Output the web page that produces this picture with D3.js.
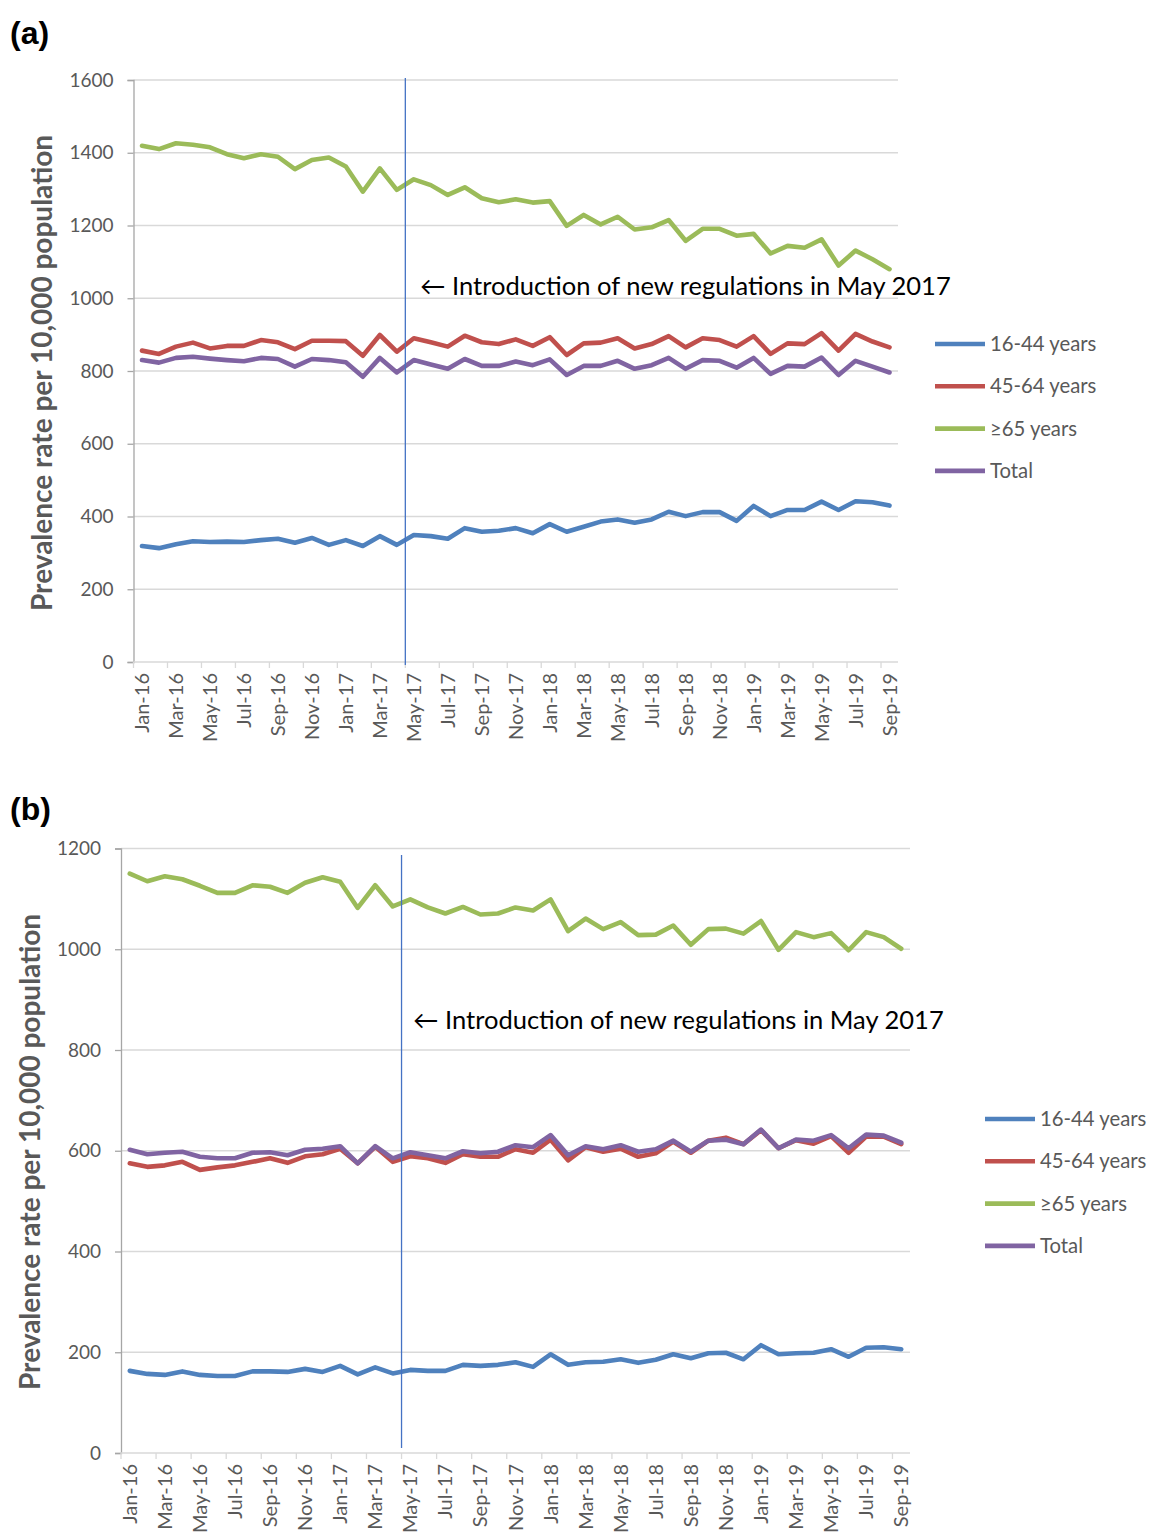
<!DOCTYPE html>
<html>
<head>
<meta charset="utf-8">
<script src="https://cdnjs.cloudflare.com/ajax/libs/d3/7.8.5/d3.min.js"></script>
<style>
  body { margin: 0; background: #fff; overflow: hidden; }
  text { font-family: Lato, "Open Sans", sans-serif; }
</style>
</head>
<body>
<div id="chart"></div>
<script>
// month categories, Jan-16 .. Sep-19
var months = ["Jan-16","Feb-16","Mar-16","Apr-16","May-16","Jun-16","Jul-16","Aug-16","Sep-16","Oct-16","Nov-16","Dec-16",
              "Jan-17","Feb-17","Mar-17","Apr-17","May-17","Jun-17","Jul-17","Aug-17","Sep-17","Oct-17","Nov-17","Dec-17",
              "Jan-18","Feb-18","Mar-18","Apr-18","May-18","Jun-18","Jul-18","Aug-18","Sep-18","Oct-18","Nov-18","Dec-18",
              "Jan-19","Feb-19","Mar-19","Apr-19","May-19","Jun-19","Jul-19","Aug-19","Sep-19"];
var seriesNames = ["16-44 years", "45-64 years", "\u226565 years", "Total"];
var colors = ["#4f81bd", "#c0504d", "#9bbb59", "#8064a2"];
var noteText = "\u2190 Introduction of new regulations in May 2017";
var yTitle = "Prevalence rate per 10,000  population";

// panel (a)
var a16_44 = [319,313,324,332,330,331,330,335,339,328,341,322,335,319,346,322,349,346,339,368,358,361,368,354,
              379,358,372,386,392,383,392,413,401,412,412,388,429,401,418,418,441,418,442,439,430];
var a45_64 = [856,847,867,878,862,869,869,885,879,860,883,883,882,842,899,853,890,879,867,897,879,874,887,869,
              893,844,876,878,890,862,874,896,865,890,885,867,896,847,876,874,904,856,902,881,865];
var a65 = [1419,1410,1426,1422,1415,1396,1385,1396,1389,1355,1380,1387,1362,1293,1357,1298,1327,1311,1284,1305,1275,1264,1272,1263,
           1267,1199,1229,1203,1224,1189,1195,1215,1158,1191,1191,1172,1177,1123,1144,1139,1162,1090,1131,1107,1080];
var aTotal = [830,823,836,839,834,830,827,836,833,812,833,830,824,784,836,796,830,818,806,833,814,814,826,816,
              832,789,814,814,828,806,816,836,806,830,828,809,836,792,814,812,837,789,828,812,796];
var aTicks = [0,200,400,600,800,1000,1200,1400,1600];

// panel (b)
var b16_44 = [163,157,155,162,155,153,153,162,162,161,167,161,173,156,170,158,165,163,163,175,173,175,180,171,
              196,175,180,181,186,179,185,196,188,198,199,186,214,196,198,199,206,191,209,210,206];
var b45_64 = [575,568,571,578,562,567,571,578,585,576,589,593,604,575,608,578,589,585,576,593,588,588,603,596,
              622,581,607,598,604,588,595,618,596,620,626,613,641,605,621,614,629,596,628,628,613];
var b65 = [1150,1135,1145,1139,1126,1112,1112,1127,1124,1112,1132,1143,1134,1082,1127,1085,1099,1083,1071,1084,1069,1071,1083,1077,
           1099,1036,1061,1040,1054,1028,1029,1047,1009,1040,1041,1031,1056,999,1034,1024,1032,998,1034,1024,1001];
var bTotal = [602,593,596,598,588,585,585,596,597,591,602,604,609,575,609,585,597,591,585,599,595,598,611,607,
              631,591,609,603,611,598,603,620,598,620,622,613,642,605,622,620,631,605,632,630,616];
var bTicks = [0,200,400,600,800,1000,1200];

var svg = d3.select("#chart").append("svg")
    .attr("width", 1150)
    .attr("height", 1533);

function drawPanel(p) {
    var g = svg.append("g");
    var x = d3.scaleBand().domain(months).range([p.left, p.right]);
    var y = d3.scaleLinear().domain([0, p.ymax]).range([p.bottom, p.top]);

    // panel letter
    g.append("text")
        .attr("x", 10).attr("y", p.letterY)
        .style("font-family", "Arial, 'Liberation Sans', sans-serif")
        .style("font-weight", "bold").style("font-size", "32px")
        .text(p.letter);

    // gridlines
    g.selectAll(".grid").data(p.ticks.slice(1)).enter().append("line")
        .attr("x1", p.left).attr("x2", p.right)
        .attr("y1", d => y(d)).attr("y2", d => y(d))
        .attr("stroke", "#d9d9d9").attr("stroke-width", 1.3);

    // y axis
    var yAxis = d3.axisLeft(y).tickValues(p.ticks).tickFormat(d3.format("d")).tickSize(6).tickPadding(14);
    var ya = g.append("g").attr("transform", "translate(" + p.left + ",0)").call(yAxis);
    ya.select(".domain").attr("stroke", "#a6a6a6").attr("stroke-width", 1.3);
    ya.selectAll(".tick line").attr("stroke", "#a6a6a6").attr("stroke-width", 1.3);
    ya.selectAll("text").style("font-size", "19px").attr("fill", "#595959")
        .style("font-family", "Lato, sans-serif");

    // x axis, ticks on every other band boundary
    var bounds = d3.range(0, months.length + 1, 2).map(i => p.left + i * x.step());
    g.append("line")
        .attr("x1", p.left).attr("x2", p.right)
        .attr("y1", p.bottom).attr("y2", p.bottom)
        .attr("stroke", "#d9d9d9").attr("stroke-width", 1.3);
    g.selectAll(".xt").data(bounds).enter().append("line")
        .attr("x1", d => d).attr("x2", d => d)
        .attr("y1", p.bottom).attr("y2", p.bottom + 6)
        .attr("stroke", "#d9d9d9").attr("stroke-width", 1.3);
    g.selectAll(".xl").data(months.filter((m, i) => i % 2 == 0)).enter().append("text")
        .attr("transform", d => "translate(" + (x(d) + x.bandwidth() / 2 + 7) + "," + (p.bottom + 11) + ") rotate(-90)")
        .attr("text-anchor", "end")
        .style("font-size", "20px").attr("fill", "#595959")
        .text(d => d);

    // y title
    g.append("text")
        .attr("transform", "translate(" + p.titleX + "," + p.titleY + ") rotate(-90)")
        .attr("text-anchor", "middle")
        .style("font-size", "28px").style("font-weight", "bold").attr("fill", "#595959")
        .text(yTitle);

    // lines
    var line = d3.line()
        .x((d, i) => x(months[i]) + x.bandwidth() / 2)
        .y(d => y(d));
    p.series.forEach(function (s, k) {
        g.append("path").datum(s)
            .attr("d", line)
            .attr("fill", "none")
            .attr("stroke", colors[k])
            .attr("stroke-width", 4.6)
            .attr("stroke-linejoin", "round")
            .attr("stroke-linecap", "round");
    });

    // regulation marker, boundary before May-17
    var vx = x("May-17");
    g.append("line")
        .attr("x1", vx).attr("x2", vx)
        .attr("y1", p.vTop).attr("y2", p.vBottom)
        .attr("stroke", "#4472c4").attr("stroke-width", 1.3);
    g.append("text")
        .attr("x", p.noteX).attr("y", p.noteY)
        .style("font-size", "25.5px").attr("fill", "#000")
        .text(noteText);

    // legend
    var lg = g.selectAll(".lg").data(seriesNames).enter().append("g")
        .attr("transform", (d, i) => "translate(" + p.legX + "," + (p.legY + i * p.legStep) + ")");
    lg.append("line").attr("x1", 0).attr("x2", 50)
        .attr("stroke", (d, i) => colors[i]).attr("stroke-width", 4.6);
    lg.append("text").attr("x", 55).attr("y", 7)
        .style("font-size", "20.3px").attr("fill", "#595959")
        .text(d => d);
}

drawPanel({
    letter: "(a)", letterY: 44,
    left: 133.5, right: 898, top: 80, bottom: 662, ymax: 1600, ticks: aTicks,
    series: [a16_44, a45_64, a65, aTotal],
    titleX: 52, titleY: 373,
    vTop: 78, vBottom: 665,
    noteX: 420, noteY: 295,
    legX: 935, legY: 344, legStep: 42.3
});

drawPanel({
    letter: "(b)", letterY: 820,
    left: 121, right: 910, top: 848.5, bottom: 1453, ymax: 1200, ticks: bTicks,
    series: [b16_44, b45_64, b65, bTotal],
    titleX: 40, titleY: 1152,
    vTop: 855, vBottom: 1448,
    noteX: 413, noteY: 1029,
    legX: 985, legY: 1119, legStep: 42.3
});
</script>
</body>
</html>
